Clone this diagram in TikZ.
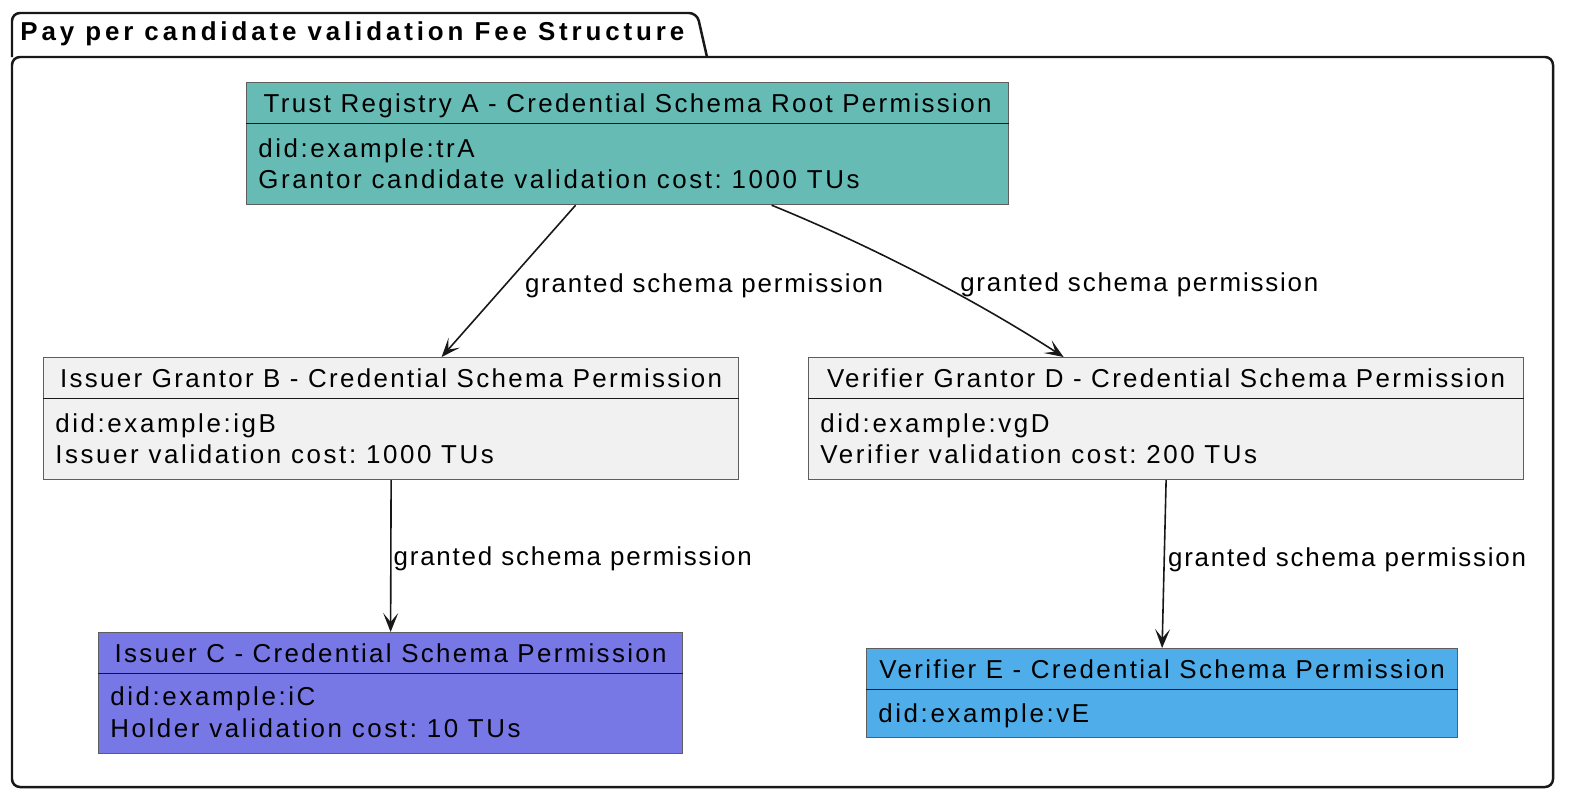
\documentclass[tikz,border=0pt]{standalone}
\usepackage{fontspec}
\setmainfont{Liberation Sans}[LetterSpace=10]
\newfontfamily\hdrfont{Liberation Sans}[LetterSpace=9]
\newfontfamily\lblfont{Liberation Sans}[LetterSpace=7]
\newfontfamily\titlefont{Liberation Sans}[LetterSpace=15]
\usetikzlibrary{arrows.meta,calc}
\definecolor{tealA}{HTML}{66BBB5}
\definecolor{purpleC}{HTML}{7777E5}
\definecolor{blueE}{HTML}{4FADE9}
\definecolor{grayF}{HTML}{F1F1F1}
\definecolor{bordr}{HTML}{5E5E5E}
\definecolor{ink}{HTML}{181818}
\tikzset{
  permbox/.style={draw=bordr, line width=0.6pt, inner sep=0pt, anchor=north west, fill=grayF},
  hdr/.style={anchor=base, inner sep=0pt, text=black, font=\hdrfont\fontsize{13}{15}\selectfont},
  bodytxt/.style={anchor=base west, inner sep=0pt, text=black},
  sepline/.style={draw=ink, line width=0.5pt},
  grant/.style={draw=ink, line width=0.8pt, -{Stealth[length=9.5pt,width=7.5pt,inset=4.5pt]}},
  lbl/.style={anchor=west, inner sep=0pt, text=black, yshift=-1.5pt, font=\lblfont\fontsize{13}{15}\selectfont},
  pkg/.style={draw=ink, line width=1.25pt, rounded corners=4pt}
}
\begin{document}
\frenchspacing
\begin{tikzpicture}[x=0.5bp,y=-0.5bp, font=\fontsize{13}{15}\selectfont]
\useasboundingbox (0,0) rectangle (1574,802);
% package frame
\draw[pkg] (12,57) rectangle (1553,787);
\draw[pkg] (12,57) -- (12,13) -- (697,13) -- (707,57);
\node[anchor=west, inner sep=0pt, font=\titlefont\bfseries\fontsize{13}{15}\selectfont] (title) at (20,34) {Pay per candidate validation Fee Structure};

% A
\node[permbox, fill=tealA, minimum width=381bp, minimum height=61bp] (a) at (246,82) {};
\node[hdr] (ah) at ($(a.north)+(0,30)$) {Trust Registry A - Credential Schema Root Permission};
\draw[sepline] ($(a.north west)+(0,41)$) -- ($(a.north east)+(0,41)$);
\node[bodytxt] (a1) at ($(a.north west)+(12,75)$) {did:example:trA};
\node[bodytxt] (a2) at ($(a.north west)+(12,106)$) {Grantor candidate validation cost: 1000 TUs};

% B
\node[permbox, minimum width=347.5bp, minimum height=61bp] (b) at (43,357) {};
\node[hdr] (bh) at ($(b.north)+(0,30)$) {Issuer Grantor B - Credential Schema Permission};
\draw[sepline] ($(b.north west)+(0,41)$) -- ($(b.north east)+(0,41)$);
\node[bodytxt] (b1) at ($(b.north west)+(12,75)$) {did:example:igB};
\node[bodytxt] (b2) at ($(b.north west)+(12,106)$) {Issuer validation cost: 1000 TUs};

% D
\node[permbox, minimum width=357.5bp, minimum height=61bp] (d) at (808,357) {};
\node[hdr] (dh) at ($(d.north)+(0,30)$) {Verifier Grantor D - Credential Schema Permission};
\draw[sepline] ($(d.north west)+(0,41)$) -- ($(d.north east)+(0,41)$);
\node[bodytxt] (d1) at ($(d.north west)+(12,75)$) {did:example:vgD};
\node[bodytxt] (d2) at ($(d.north west)+(12,106)$) {Verifier validation cost: 200 TUs};

% C
\node[permbox, fill=purpleC, minimum width=292bp, minimum height=60.5bp] (c) at (98,632) {};
\node[hdr] (ch) at ($(c.north)+(0,30)$) {Issuer C - Credential Schema Permission};
\draw[sepline] ($(c.north west)+(0,41)$) -- ($(c.north east)+(0,41)$);
\node[bodytxt] (c1) at ($(c.north west)+(12,73)$) {did:example:iC};
\node[bodytxt] (c2) at ($(c.north west)+(12,105)$) {Holder validation cost: 10 TUs};

% E
\node[permbox, fill=blueE, minimum width=295.5bp, minimum height=44.5bp] (e) at (866,648) {};
\node[hdr] (eh) at ($(e.north)+(0,30)$) {Verifier E - Credential Schema Permission};
\draw[sepline] ($(e.north west)+(0,41)$) -- ($(e.north east)+(0,41)$);
\node[bodytxt] (e1) at ($(e.north west)+(12,74)$) {did:example:vE};

% connectors
\draw[grant] ($(a.south)+(-52,0)$) -- node[lbl, pos=0.51, xshift=8.5pt] (l1) {granted schema permission} ($(b.north)+(50.5,0)$);
\draw[grant] ($(a.south)+(144,0)$) .. controls (850,237) and (960,290) .. node[lbl, pos=0.59, xshift=12pt] (l2) {granted schema permission} ($(d.north)+(-102.5,0)$);
\draw[grant] (b.south) -- node[lbl, midway, xshift=1pt] (l3) {granted schema permission} (c.north);
\draw[grant] (d.south) -- node[lbl, pos=0.456, xshift=1.5pt] (l4) {granted schema permission} (e.north);
\end{tikzpicture}
\end{document}
